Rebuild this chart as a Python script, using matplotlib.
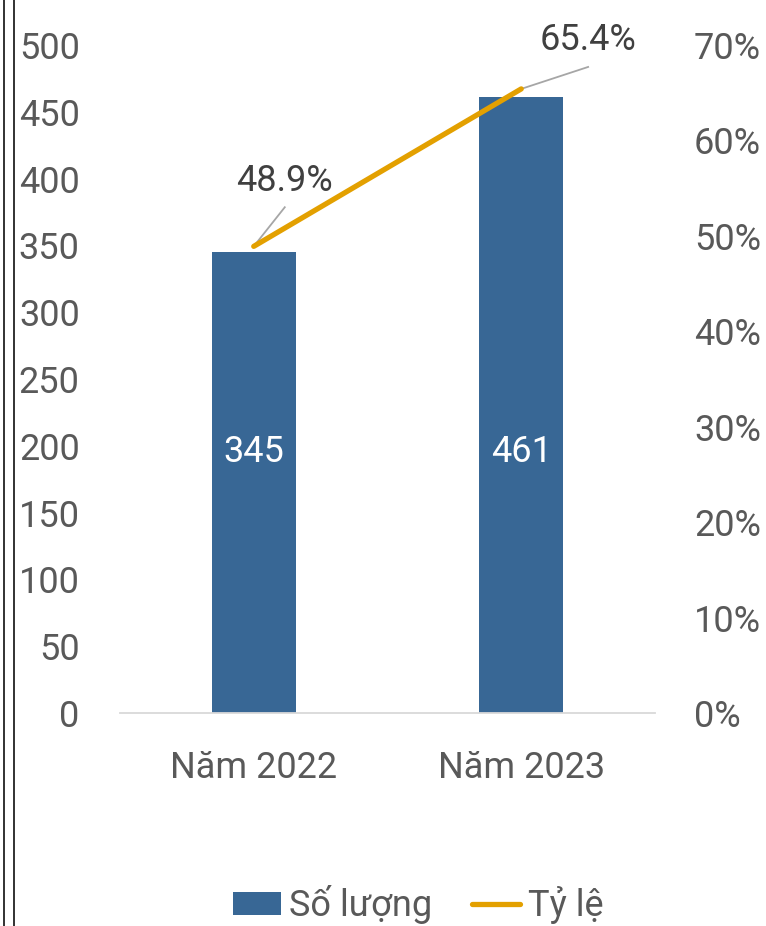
import matplotlib
matplotlib.use("Agg")
import matplotlib.pyplot as plt
from matplotlib.lines import Line2D
from matplotlib.patches import Patch

plt.rcParams['font.family'] = ['Roboto', 'DejaVu Sans']

categories = ["Năm 2022", "Năm 2023"]
counts = [345, 461]
rates = [48.9, 65.4]
left_ticks = [0, 50, 100, 150, 200, 250, 300, 350, 400, 450, 500]
right_ticks = [0, 10, 20, 30, 40, 50, 60, 70]
series_names = ["Số lượng", "Tỷ lệ"]

bar_color = "#386795"
line_color = "#E3A000"
tick_color = "#595959"
label_color = "#404040"

W, H = 766, 926
fig = plt.figure(figsize=(W / 100, H / 100), dpi=100)
ax = fig.add_axes([120 / W, (H - 713) / H, 535 / W, 668 / H])
ax2 = ax.twinx()

x = list(range(len(categories)))
ax.bar(x, counts, width=0.314, color=bar_color, zorder=2)
ax.set_xlim(-0.5, 1.5)
ax.set_ylim(0, 500)
ax.set_yticks(left_ticks)
ax.set_xticks(x)
ax.set_xticklabels(categories)

fs = 26
for a in (ax, ax2):
    for s in a.spines.values():
        s.set_visible(False)
ax.spines['bottom'].set_visible(True)
ax.spines['bottom'].set_color('#D9D9D9')
ax.spines['bottom'].set_linewidth(1.3)

ax.tick_params(axis='y', length=0, labelsize=fs, labelcolor=tick_color, pad=29)
ax.tick_params(axis='x', length=0, labelsize=fs, labelcolor=tick_color, pad=27)

ax2.plot(x, rates, color=line_color, lw=3.8, solid_capstyle='round', zorder=3)
ax2.set_ylim(0, 70)
ax2.set_yticks(right_ticks)
ax2.set_yticklabels([f"{t}%" for t in right_ticks])
ax2.tick_params(axis='y', length=0, labelsize=fs, labelcolor=tick_color, pad=28)

# bar value labels
for xi, c in zip(x, counts):
    ax.text(xi, 195, f"{c}", ha='center', va='center', color='white', fontsize=fs, zorder=4)

# percentage labels with leader lines
leader_ends = [(0.116, 4.1), (0.25, 2.3)]
text_offsets = [(0.113, 6.9), (0.25, 5.1)]
for xi, r, (lx, ly), (tx, ty) in zip(x, rates, leader_ends, text_offsets):
    ax2.plot([xi, xi + lx], [r, r + ly], color='#A6A6A6', lw=1.3, zorder=2.5)
    ax2.text(xi + tx, r + ty, f"{r}%", ha='center', va='center',
             color=label_color, fontsize=fs, zorder=5)

# legend
handles = [Patch(facecolor=bar_color, edgecolor='none'),
           Line2D([0], [0], color=line_color, lw=3.8, solid_capstyle='round')]
fig.legend(handles, series_names, loc='center', bbox_to_anchor=(418 / W, 1 - 905 / H),
           ncol=2, frameon=False, fontsize=fs, labelcolor=tick_color,
           handlelength=1.35, handleheight=0.62, handletextpad=0.2,
           columnspacing=1.1, borderpad=0)

# left double border
fig.add_artist(Line2D([3.5 / W, 3.5 / W], [0, 1], color='#222222', lw=1.3))
fig.add_artist(Line2D([13.5 / W, 13.5 / W], [0, 1], color='#222222', lw=1.3))

fig.savefig("out.png", dpi=100)
